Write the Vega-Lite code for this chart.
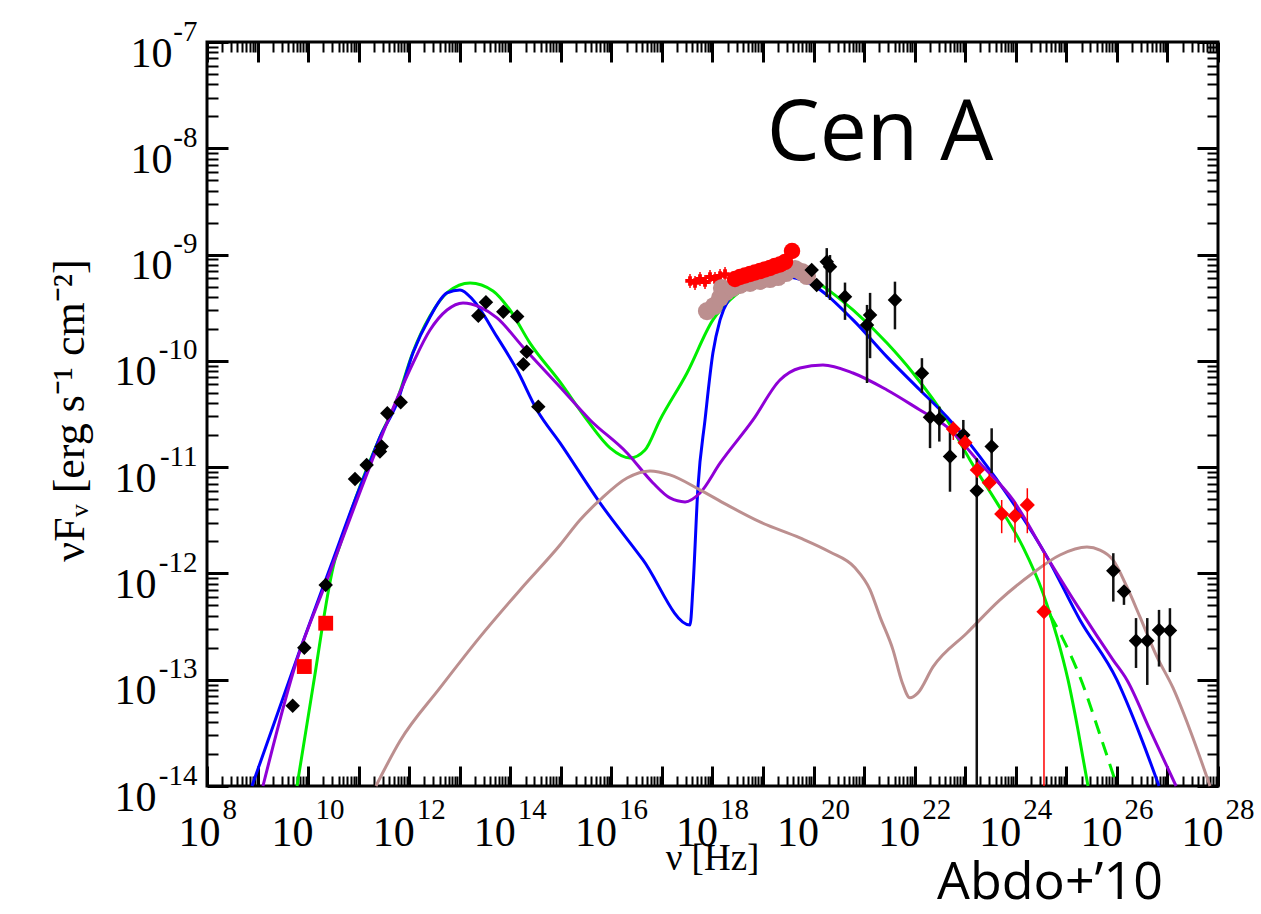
{
"$schema": "https://vega.github.io/schema/vega-lite/v6.json",
"width": 1011, "height": 744,
"autosize": {"type": "none"},
"padding": {"left": 207, "top": 42, "right": 43, "bottom": 128},
"background": "white",
"config": {"view": {"stroke": "black", "strokeWidth": 3}, "axis": {"grid": false}},
"resolve": {"axis": {"x": "independent", "y": "independent"}},
"datasets": {
"green": [{"nu":6.03e9,"flux":1e-14},{"nu":1.25e10,"flux":8.61e-14},{"nu":3.40e10,"flux":1.34e-12},{"nu":4.28e10,"flux":1.85e-12},{"nu":8.47e10,"flux":4.91e-12},{"nu":2.64e11,"flux":1.92e-11},{"nu":5.74e11,"flux":4.29e-11},{"nu":1.19e12,"flux":1.21e-10},{"nu":2.58e12,"flux":2.64e-10},{"nu":5.86e12,"flux":4.45e-10},{"nu":1.60e13,"flux":5.41e-10},{"nu":4.55e13,"flux":4.55e-10},{"nu":9.86e13,"flux":3.01e-10},{"nu":2.45e14,"flux":1.47e-10},{"nu":9.62e14,"flux":6.34e-11},{"nu":3.29e15,"flux":2.78e-11},{"nu":9.38e15,"flux":1.52e-11},{"nu":2.33e16,"flux":1.22e-11},{"nu":4.62e16,"flux":1.45e-11},{"nu":9.14e16,"flux":2.78e-11},{"nu":3.13e17,"flux":7.69e-11},{"nu":1.02e18,"flux":2.43e-10},{"nu":2.22e18,"flux":3.74e-10},{"nu":5.52e18,"flux":5.18e-10},{"nu":1.73e19,"flux":6.56e-10},{"nu":4.29e19,"flux":6.86e-10},{"nu":9.73e19,"flux":5.77e-10},{"nu":6.01e20,"flux":3.01e-10},{"nu":2.83e21,"flux":1.47e-10},{"nu":9.25e21,"flux":7.69e-11},{"nu":4.36e22,"flux":2.78e-11},{"nu":1.24e23,"flux":1.17e-11},{"nu":4.25e23,"flux":4.61e-12},{"nu":1.39e24,"flux":1.77e-12},{"nu":3.45e24,"flux":6.56e-13},{"nu":6.53e24,"flux":2.53e-13},{"nu":1.08e25,"flux":9.95e-14},{"nu":1.70e25,"flux":3.37e-14},{"nu":2.68e25,"flux":1e-14}],
"green_dashed": [{"nu":4.75e24,"flux":4.07e-13},{"nu":8.20e24,"flux":2.53e-13},{"nu":1.86e25,"flux":1.06e-13},{"nu":4.63e25,"flux":3.03e-14},{"nu":1.00e26,"flux":1e-14}],
"blue": [{"nu":7.76e8,"flux":1e-14},{"nu":6.92e9,"flux":1.91e-13},{"nu":3.11e10,"flux":1.34e-12},{"nu":8.47e10,"flux":4.91e-12},{"nu":1.46e11,"flux":9.42e-12},{"nu":2.64e11,"flux":1.92e-11},{"nu":5.74e11,"flux":4.02e-11},{"nu":1.19e12,"flux":1.19e-10},{"nu":2.58e12,"flux":2.59e-10},{"nu":5.60e12,"flux":4.36e-10},{"nu":1.01e13,"flux":4.65e-10},{"nu":1.83e13,"flux":3.74e-10},{"nu":5.46e13,"flux":1.68e-10},{"nu":1.36e14,"flux":8.20e-11},{"nu":3.37e14,"flux":3.45e-11},{"nu":9.62e14,"flux":1.69e-11},{"nu":5.94e15,"flux":4.61e-12},{"nu":4.22e16,"flux":1.34e-12},{"nu":3.59e17,"flux":3.27e-13},{"nu":4.11e17,"flux":7.46e-13},{"nu":5.16e17,"flux":6.52e-12},{"nu":7.11e17,"flux":2.78e-11},{"nu":1.02e18,"flux":1.19e-10},{"nu":1.41e18,"flux":2.43e-10},{"nu":2.22e18,"flux":3.99e-10},{"nu":3.50e18,"flux":5.18e-10},{"nu":8.71e18,"flux":6.15e-10},{"nu":2.98e19,"flux":6.15e-10},{"nu":7.40e19,"flux":5.52e-10},{"nu":6.01e20,"flux":2.43e-10},{"nu":2.83e21,"flux":1.09e-10},{"nu":1.27e22,"flux":5.32e-11},{"nu":4.36e22,"flux":2.96e-11},{"nu":1.96e23,"flux":1.25e-11},{"nu":8.81e23,"flux":4.61e-12},{"nu":4.14e24,"flux":1.43e-12},{"nu":1.86e25,"flux":3.65e-13},{"nu":1.00e26,"flux":9.95e-14},{"nu":2.86e26,"flux":3.03e-14},{"nu":6.81e26,"flux":1e-14}],
"purple": [{"nu":1.28e9,"flux":1e-14},{"nu":6.03e9,"flux":1.54e-13},{"nu":2.37e10,"flux":8.69e-13},{"nu":9.27e10,"flux":4.91e-12},{"nu":3.64e11,"flux":2.61e-11},{"nu":1.19e12,"flux":9.55e-11},{"nu":2.58e12,"flux":1.95e-10},{"nu":5.60e12,"flux":3.01e-10},{"nu":1.16e13,"flux":3.51e-10},{"nu":2.52e13,"flux":3.21e-10},{"nu":5.46e13,"flux":2.54e-10},{"nu":1.78e14,"flux":1.35e-10},{"nu":9.62e14,"flux":5.68e-11},{"nu":3.78e15,"flux":2.78e-11},{"nu":2.04e16,"flux":1.36e-11},{"nu":6.65e16,"flux":7.10e-12},{"nu":1.44e17,"flux":5.13e-12},{"nu":2.86e17,"flux":4.71e-12},{"nu":5.66e17,"flux":5.71e-12},{"nu":1.41e18,"flux":1.09e-11},{"nu":6.32e18,"flux":2.78e-11},{"nu":2.16e19,"flux":6.61e-11},{"nu":5.38e19,"flux":8.57e-11},{"nu":1.53e20,"flux":9.14e-11},{"nu":6.01e20,"flux":7.69e-11},{"nu":2.83e21,"flux":5.32e-11},{"nu":1.27e22,"flux":3.45e-11},{"nu":4.36e22,"flux":2.39e-11},{"nu":1.96e23,"flux":1.09e-11},{"nu":8.81e23,"flux":4.91e-12},{"nu":4.14e24,"flux":1.43e-12},{"nu":1.86e25,"flux":4.54e-13},{"nu":8.37e25,"flux":1.54e-13},{"nu":1.58e26,"flux":9.95e-14},{"nu":4.52e26,"flux":3.37e-14},{"nu":1.48e27,"flux":1e-14}],
"rosy": [{"nu":2.20e11,"flux":1e-14},{"nu":6.58e11,"flux":2.65e-14},{"nu":4.06e12,"flux":8.37e-14},{"nu":2.52e13,"flux":2.53e-13},{"nu":1.56e14,"flux":7.00e-13},{"nu":9.62e14,"flux":1.85e-12},{"nu":2.39e15,"flux":3.18e-12},{"nu":5.94e15,"flux":4.91e-12},{"nu":2.04e16,"flux":7.91e-12},{"nu":5.81e16,"flux":9.21e-12},{"nu":1.44e17,"flux":8.45e-12},{"nu":5.66e17,"flux":6.11e-12},{"nu":1.94e18,"flux":4.41e-12},{"nu":8.71e18,"flux":3.05e-12},{"nu":5.38e19,"flux":2.16e-12},{"nu":2.11e20,"flux":1.59e-12},{"nu":6.59e20,"flux":1.13e-12},{"nu":1.31e21,"flux":7.00e-13},{"nu":2.06e21,"flux":3.90e-13},{"nu":3.72e21,"flux":1.91e-13},{"nu":5.61e21,"flux":9.53e-14},{"nu":8.07e21,"flux":6.75e-14},{"nu":1.16e22,"flux":7.52e-14},{"nu":2.30e22,"flux":1.32e-13},{"nu":1.08e23,"flux":2.75e-13},{"nu":4.86e23,"flux":5.64e-13},{"nu":2.19e24,"flux":1.01e-12},{"nu":7.48e24,"flux":1.49e-12},{"nu":2.56e25,"flux":1.77e-12},{"nu":4.63e25,"flux":1.66e-12},{"nu":8.37e25,"flux":1.34e-12},{"nu":1.58e26,"flux":7.46e-13},{"nu":2.86e26,"flux":3.90e-13},{"nu":6.21e26,"flux":1.64e-13},{"nu":1.29e27,"flux":8.37e-14},{"nu":2.79e27,"flux":3.37e-14},{"nu":6.95e27,"flux":1e-14}],
"black": [{"nu":4.96e9,"flux":5.70e-14},{"nu":8.41e9,"flux":2.00e-13},{"nu":2.23e10,"flux":7.80e-13},{"nu":8.47e10,"flux":7.74e-12},{"nu":1.44e11,"flux":1.05e-11},{"nu":2.64e11,"flux":1.40e-11},{"nu":2.86e11,"flux":1.56e-11},{"nu":3.69e11,"flux":3.21e-11},{"nu":6.79e11,"flux":4.08e-11},{"nu":2.33e13,"flux":2.66e-10},{"nu":3.30e13,"flux":3.56e-10},{"nu":7.28e13,"flux":2.90e-10},{"nu":1.37e14,"flux":2.61e-10},{"nu":2.11e14,"flux":1.22e-10},{"nu":1.81e14,"flux":9.29e-11},{"nu":3.58e14,"flux":3.71e-11},{"nu":9.17e19,"flux":7.16e-10},{"nu":1.15e20,"flux":5.18e-10},{"nu":1.82e20,"flux":8.57e-10,"flux_lo":3.99e-10,"flux_hi":1.15e-9},{"nu":2.11e20,"flux":7.69e-10,"flux_lo":3.74e-10,"flux_hi":9.9e-10},{"nu":4.18e20,"flux":4.02e-10,"flux_lo":2.43e-10,"flux_hi":5.45e-10},{"nu":1.31e21,"flux":2.70e-10,"flux_lo":1.06e-10,"flux_hi":4.36e-10},{"nu":1.14e21,"flux":2.18e-10,"flux_lo":6.19e-11,"flux_hi":3.36e-10},{"nu":4.07e21,"flux":3.74e-10,"flux_lo":1.98e-10,"flux_hi":5.56e-10},{"nu":1.39e22,"flux":7.64e-11,"flux_lo":4.99e-11,"flux_hi":1.06e-10},{"nu":2.01e22,"flux":2.95e-11,"flux_lo":1.51e-11,"flux_hi":4.28e-11},{"nu":3.07e22,"flux":2.82e-11,"flux_lo":1.74e-11,"flux_hi":3.71e-11},{"nu":4.99e22,"flux":1.26e-11,"flux_lo":5.87e-12,"flux_hi":2.34e-11},{"nu":9.16e22,"flux":2.01e-11,"flux_lo":1.21e-11,"flux_hi":2.78e-11},{"nu":1.69e23,"flux":6.01e-12,"flux_lo":1e-14,"flux_hi":1.21e-11},{"nu":3.33e23,"flux":1.56e-11,"flux_lo":8.77e-12,"flux_hi":2.32e-11},{"nu":8.49e25,"flux":1.06e-12,"flux_lo":5.43e-13,"flux_hi":1.55e-12},{"nu":1.38e26,"flux":6.75e-13,"flux_lo":5.06e-13,"flux_hi":7.52e-13},{"nu":2.39e26,"flux":2.33e-13,"flux_lo":1.29e-13,"flux_hi":3.80e-13},{"nu":3.99e26,"flux":2.33e-13,"flux_lo":8.93e-14,"flux_hi":3.80e-13},{"nu":6.81e26,"flux":2.94e-13,"flux_lo":1.33e-13,"flux_hi":4.54e-13},{"nu":1.12e27,"flux":2.90e-13,"flux_lo":1.18e-13,"flux_hi":4.71e-13}],
"red_gev": [{"nu":5.81e22,"flux":2.28e-11,"flux_lo":1.80e-11,"flux_hi":2.68e-11},{"nu":9.89e22,"flux":1.70e-11,"flux_lo":1.45e-11,"flux_hi":2.01e-11},{"nu":1.73e23,"flux":9.42e-12,"flux_lo":7.91e-12,"flux_hi":1.12e-11},{"nu":2.99e23,"flux":7.15e-12,"flux_lo":5.97e-12,"flux_hi":8.63e-12},{"nu":5.26e23,"flux":3.63e-12,"flux_lo":2.39e-12,"flux_hi":4.91e-12},{"nu":9.64e23,"flux":3.48e-12,"flux_lo":1.95e-12,"flux_hi":4.73e-12},{"nu":1.69e24,"flux":4.41e-12,"flux_lo":2.39e-12,"flux_hi":6.33e-12},{"nu":3.61e24,"flux":4.37e-13,"flux_lo":1e-14,"flux_hi":1.55e-12}],
"red_radio": [{"nu":8.41e9,"flux":1.33e-13},{"nu":2.23e10,"flux":3.40e-13}],
"red_xray": [{"nu":2.79e18,"flux":5.89e-10},{"nu":3.50e18,"flux":6.15e-10},{"nu":4.40e18,"flux":6.35e-10},{"nu":5.52e18,"flux":6.56e-10},{"nu":6.93e18,"flux":6.79e-10},{"nu":8.71e18,"flux":7.01e-10},{"nu":1.09e19,"flux":7.24e-10},{"nu":1.37e19,"flux":7.48e-10},{"nu":1.72e19,"flux":7.82e-10},{"nu":2.16e19,"flux":8.07e-10},{"nu":2.72e19,"flux":8.51e-10},{"nu":3.74e19,"flux":1.08e-9}],
"red_soft": [{"nu":3.59e17,"flux":5.65e-10,"flux_lo":4.85e-10,"flux_hi":6.58e-10},{"nu":4.51e17,"flux":5.41e-10,"flux_lo":4.65e-10,"flux_hi":6.30e-10},{"nu":5.66e17,"flux":5.89e-10,"flux_lo":5.06e-10,"flux_hi":6.86e-10},{"nu":7.11e17,"flux":5.52e-10,"flux_lo":4.74e-10,"flux_hi":6.43e-10},{"nu":8.93e17,"flux":6.15e-10,"flux_lo":5.28e-10,"flux_hi":7.16e-10},{"nu":1.12e18,"flux":5.89e-10,"flux_lo":5.06e-10,"flux_hi":6.86e-10},{"nu":1.41e18,"flux":6.29e-10,"flux_lo":5.40e-10,"flux_hi":7.32e-10},{"nu":1.77e18,"flux":6.56e-10,"flux_lo":5.64e-10,"flux_hi":7.64e-10}],
"rosy_xray": [{"nu":7.78e17,"flux":2.94e-10},{"nu":1.07e18,"flux":3.28e-10},{"nu":1.41e18,"flux":3.91e-10},{"nu":1.54e18,"flux":4.85e-10},{"nu":1.85e18,"flux":4.45e-10},{"nu":2.43e18,"flux":4.85e-10},{"nu":3.50e18,"flux":5.18e-10},{"nu":5.52e18,"flux":5.41e-10},{"nu":8.71e18,"flux":5.65e-10},{"nu":1.37e19,"flux":5.89e-10},{"nu":1.98e19,"flux":6.15e-10},{"nu":2.84e19,"flux":6.71e-10},{"nu":4.29e19,"flux":7.32e-10},{"nu":5.90e19,"flux":6.86e-10},{"nu":7.40e19,"flux":6.29e-10}],
"labels": [{"text":"Cen A"},{"text":"Abdo+’10"}]
},
"layer": [
{"data": {"name": "green"}, "mark": {"type": "line", "color": "#00ee00", "strokeWidth": 3, "interpolate": "monotone"},
 "encoding": {
  "x": {"field": "nu", "type": "quantitative", "scale": {"type": "log", "domain": [1e8, 1e28], "nice": false},
        "axis": {"orient": "bottom", "tickCount": 100, "labels": false, "domain": false, "grid": false, "title": null, "tickColor": "black",
                 "tickSize": {"condition": {"test": "abs(log(datum.value)/LN10 - round(log(datum.value)/LN10)) < 0.01", "value": -20}, "value": -10},
                 "tickWidth": {"condition": {"test": "abs(log(datum.value)/LN10 - round(log(datum.value)/LN10)) < 0.01", "value": 3}, "value": 2}}},
  "y": {"field": "flux", "type": "quantitative", "scale": {"type": "log", "domain": [1e-14, 1e-7], "nice": false},
        "axis": {"orient": "left", "tickCount": 100, "labels": false, "domain": false, "grid": false, "title": null, "tickColor": "black",
                 "tickSize": {"condition": {"test": "abs(log(datum.value)/LN10 - round(log(datum.value)/LN10)) < 0.01", "value": -21}, "value": -11},
                 "tickWidth": {"condition": {"test": "abs(log(datum.value)/LN10 - round(log(datum.value)/LN10)) < 0.01", "value": 3}, "value": 2}}}}},
{"data": {"name": "green_dashed"}, "mark": {"type": "line", "color": "#00ee00", "strokeWidth": 3, "strokeDash": [14, 9], "interpolate": "monotone"},
 "encoding": {
  "x": {"field": "nu", "type": "quantitative", "scale": {"type": "log", "domain": [1e8, 1e28], "nice": false},
        "axis": {"orient": "top", "tickCount": 100, "labels": false, "domain": false, "grid": false, "title": null, "tickColor": "black",
                 "tickSize": {"condition": {"test": "abs(log(datum.value)/LN10 - round(log(datum.value)/LN10)) < 0.01", "value": -20}, "value": -10},
                 "tickWidth": {"condition": {"test": "abs(log(datum.value)/LN10 - round(log(datum.value)/LN10)) < 0.01", "value": 3}, "value": 2}}},
  "y": {"field": "flux", "type": "quantitative", "scale": {"type": "log", "domain": [1e-14, 1e-7], "nice": false},
        "axis": {"orient": "right", "tickCount": 100, "labels": false, "domain": false, "grid": false, "title": null, "tickColor": "black",
                 "tickSize": {"condition": {"test": "abs(log(datum.value)/LN10 - round(log(datum.value)/LN10)) < 0.01", "value": -21}, "value": -11},
                 "tickWidth": {"condition": {"test": "abs(log(datum.value)/LN10 - round(log(datum.value)/LN10)) < 0.01", "value": 3}, "value": 2}}}}},
{"data": {"name": "blue"}, "mark": {"type": "line", "color": "#0000ff", "strokeWidth": 3, "interpolate": "monotone"},
 "encoding": {
  "x": {"field": "nu", "type": "quantitative", "scale": {"type": "log", "domain": [1e8, 1e28], "nice": false},
        "axis": {"orient": "bottom", "values": [1e8, 1e10, 1e12, 1e14, 1e16, 1e18, 1e20, 1e22, 1e24, 1e26, 1e28], "ticks": false, "domain": false, "grid": false, "title": null,
                 "labelExpr": "'10'", "labelFont": "Liberation Serif", "labelFontSize": 42, "labelColor": "black", "labelAlign": "right", "labelBaseline": "alphabetic",
                 "labelPadding": 59, "labelOffset": {"condition": {"test": "datum.value < 5e8", "value": 13}, "value": 5},
                 "labelFlush": false, "labelOverlap": false, "labelBound": false}},
  "y": {"field": "flux", "type": "quantitative", "scale": {"type": "log", "domain": [1e-14, 1e-7], "nice": false},
        "axis": {"orient": "left", "values": [1e-14, 1e-13, 1e-12, 1e-11, 1e-10, 1e-9, 1e-8, 1e-7], "ticks": false, "domain": false, "grid": false, "title": null,
                 "labelExpr": "'10'", "labelFont": "Liberation Serif", "labelFontSize": 42, "labelColor": "black", "labelAlign": "right", "labelBaseline": "alphabetic",
                 "labelOffset": 24, "labelPadding": {"condition": {"test": "datum.value > 5e-10", "value": 35}, "value": 51},
                 "labelFlush": false, "labelOverlap": false, "labelBound": false}}}},
{"data": {"name": "purple"}, "mark": {"type": "line", "color": "#8f00d6", "strokeWidth": 3, "interpolate": "monotone"},
 "encoding": {
  "x": {"field": "nu", "type": "quantitative", "scale": {"type": "log", "domain": [1e8, 1e28], "nice": false},
        "axis": {"orient": "bottom", "values": [1e8, 1e10, 1e12, 1e14, 1e16, 1e18, 1e20, 1e22, 1e24, 1e26, 1e28], "ticks": false, "domain": false, "grid": false,
                 "labelExpr": "'' + round(log(datum.value)/LN10)", "labelFont": "Liberation Serif", "labelFontSize": 29, "labelColor": "black", "labelAlign": "left", "labelBaseline": "alphabetic",
                 "labelPadding": 32, "labelOffset": {"condition": {"test": "datum.value < 5e8", "value": 15}, "value": 7},
                 "labelFlush": false, "labelOverlap": false, "labelBound": false,
                 "title": "ν [Hz]", "titleFont": "Liberation Serif", "titleFontSize": 37, "titleFontWeight": "normal", "titleColor": "black",
                 "titleBaseline": "alphabetic", "titleAlign": "center", "titleX": 505, "titleY": 83, "titleAngle": 0}},
  "y": {"field": "flux", "type": "quantitative", "scale": {"type": "log", "domain": [1e-14, 1e-7], "nice": false},
        "axis": {"orient": "left", "values": [1e-14, 1e-13, 1e-12, 1e-11, 1e-10, 1e-9, 1e-8, 1e-7], "ticks": false, "domain": false, "grid": false,
                 "labelExpr": "'' + round(log(datum.value)/LN10)", "labelFont": "Liberation Serif", "labelFontSize": 29, "labelColor": "black", "labelAlign": "right", "labelBaseline": "alphabetic",
                 "labelPadding": 10, "labelOffset": -2, "labelFlush": false, "labelOverlap": false, "labelBound": false,
                 "title": "νFᵥ [erg s⁻¹ cm⁻²]", "titleFont": "Liberation Serif", "titleFontSize": 44, "titleFontWeight": "normal", "titleColor": "black",
                 "titleAngle": -90, "titleBaseline": "alphabetic", "titleAlign": "center", "titleX": -124, "titleY": 368}}}},
{"data": {"name": "rosy"}, "mark": {"type": "line", "color": "#bc8f8f", "strokeWidth": 3, "interpolate": "monotone"},
 "encoding": {
  "x": {"field": "nu", "type": "quantitative", "scale": {"type": "log", "domain": [1e8, 1e28], "nice": false}, "axis": null},
  "y": {"field": "flux", "type": "quantitative", "scale": {"type": "log", "domain": [1e-14, 1e-7], "nice": false}, "axis": null}}},
{"data": {"name": "red_soft"}, "mark": {"type": "rule", "color": "#ff0000", "strokeWidth": 1.5},
 "encoding": {
  "x": {"field": "nu", "type": "quantitative", "scale": {"type": "log", "domain": [1e8, 1e28], "nice": false}, "axis": null},
  "y": {"field": "flux_lo", "type": "quantitative", "scale": {"type": "log", "domain": [1e-14, 1e-7], "nice": false}, "axis": null},
  "y2": {"field": "flux_hi"}}},
{"data": {"name": "red_soft"}, "mark": {"type": "point", "shape": "cross", "filled": true, "color": "#ff0000", "size": 90, "opacity": 1},
 "encoding": {
  "x": {"field": "nu", "type": "quantitative", "scale": {"type": "log", "domain": [1e8, 1e28], "nice": false}, "axis": null},
  "y": {"field": "flux", "type": "quantitative", "scale": {"type": "log", "domain": [1e-14, 1e-7], "nice": false}, "axis": null}}},
{"data": {"name": "rosy_xray"}, "mark": {"type": "point", "shape": "circle", "filled": true, "color": "#bc8f8f", "size": 330, "opacity": 1},
 "encoding": {
  "x": {"field": "nu", "type": "quantitative", "scale": {"type": "log", "domain": [1e8, 1e28], "nice": false}, "axis": null},
  "y": {"field": "flux", "type": "quantitative", "scale": {"type": "log", "domain": [1e-14, 1e-7], "nice": false}, "axis": null}}},
{"data": {"name": "red_xray"}, "mark": {"type": "point", "shape": "circle", "filled": true, "color": "#ff0000", "size": 270, "opacity": 1},
 "encoding": {
  "x": {"field": "nu", "type": "quantitative", "scale": {"type": "log", "domain": [1e8, 1e28], "nice": false}, "axis": null},
  "y": {"field": "flux", "type": "quantitative", "scale": {"type": "log", "domain": [1e-14, 1e-7], "nice": false}, "axis": null}}},
{"data": {"name": "black"}, "transform": [{"filter": "isValid(datum.flux_lo)"}], "mark": {"type": "rule", "color": "#111111", "strokeWidth": 2.5},
 "encoding": {
  "x": {"field": "nu", "type": "quantitative", "scale": {"type": "log", "domain": [1e8, 1e28], "nice": false}, "axis": null},
  "y": {"field": "flux_lo", "type": "quantitative", "scale": {"type": "log", "domain": [1e-14, 1e-7], "nice": false}, "axis": null},
  "y2": {"field": "flux_hi"}}},
{"data": {"name": "black"}, "mark": {"type": "point", "shape": "diamond", "filled": true, "color": "black", "size": 210, "opacity": 1},
 "encoding": {
  "x": {"field": "nu", "type": "quantitative", "scale": {"type": "log", "domain": [1e8, 1e28], "nice": false}, "axis": null},
  "y": {"field": "flux", "type": "quantitative", "scale": {"type": "log", "domain": [1e-14, 1e-7], "nice": false}, "axis": null}}},
{"data": {"name": "red_gev"}, "mark": {"type": "rule", "color": "#ff0000", "strokeWidth": 1.5},
 "encoding": {
  "x": {"field": "nu", "type": "quantitative", "scale": {"type": "log", "domain": [1e8, 1e28], "nice": false}, "axis": null},
  "y": {"field": "flux_lo", "type": "quantitative", "scale": {"type": "log", "domain": [1e-14, 1e-7], "nice": false}, "axis": null},
  "y2": {"field": "flux_hi"}}},
{"data": {"name": "red_gev"}, "mark": {"type": "point", "shape": "diamond", "filled": true, "color": "#ff0000", "size": 230, "opacity": 1},
 "encoding": {
  "x": {"field": "nu", "type": "quantitative", "scale": {"type": "log", "domain": [1e8, 1e28], "nice": false}, "axis": null},
  "y": {"field": "flux", "type": "quantitative", "scale": {"type": "log", "domain": [1e-14, 1e-7], "nice": false}, "axis": null}}},
{"data": {"name": "red_radio"}, "mark": {"type": "point", "shape": "square", "filled": true, "color": "#ff0000", "size": 220, "opacity": 1},
 "encoding": {
  "x": {"field": "nu", "type": "quantitative", "scale": {"type": "log", "domain": [1e8, 1e28], "nice": false}, "axis": null},
  "y": {"field": "flux", "type": "quantitative", "scale": {"type": "log", "domain": [1e-14, 1e-7], "nice": false}, "axis": null}}},
{"data": {"name": "labels"}, "transform": [{"filter": "datum.text == 'Cen A'"}],
 "mark": {"type": "text", "font": "Open Sans", "fontSize": 84, "align": "center", "baseline": "alphabetic", "color": "black"},
 "encoding": {
  "text": {"field": "text"},
  "x": {"datum": 2.06e21, "type": "quantitative", "scale": {"type": "log", "domain": [1e8, 1e28], "nice": false}, "axis": null},
  "y": {"datum": 7.76e-9, "type": "quantitative", "scale": {"type": "log", "domain": [1e-14, 1e-7], "nice": false}, "axis": null}}},
{"data": {"name": "labels"}, "transform": [{"filter": "datum.text != 'Cen A'"}],
 "mark": {"type": "text", "font": "Open Sans", "fontSize": 52, "align": "center", "baseline": "alphabetic", "color": "black"},
 "encoding": {
  "text": {"field": "text"},
  "x": {"datum": 4.75e24, "type": "quantitative", "scale": {"type": "log", "domain": [1e8, 1e28], "nice": false}, "axis": null},
  "y": {"datum": 8.6e-16, "type": "quantitative", "scale": {"type": "log", "domain": [1e-14, 1e-7], "nice": false}, "axis": null}}}
]
}
